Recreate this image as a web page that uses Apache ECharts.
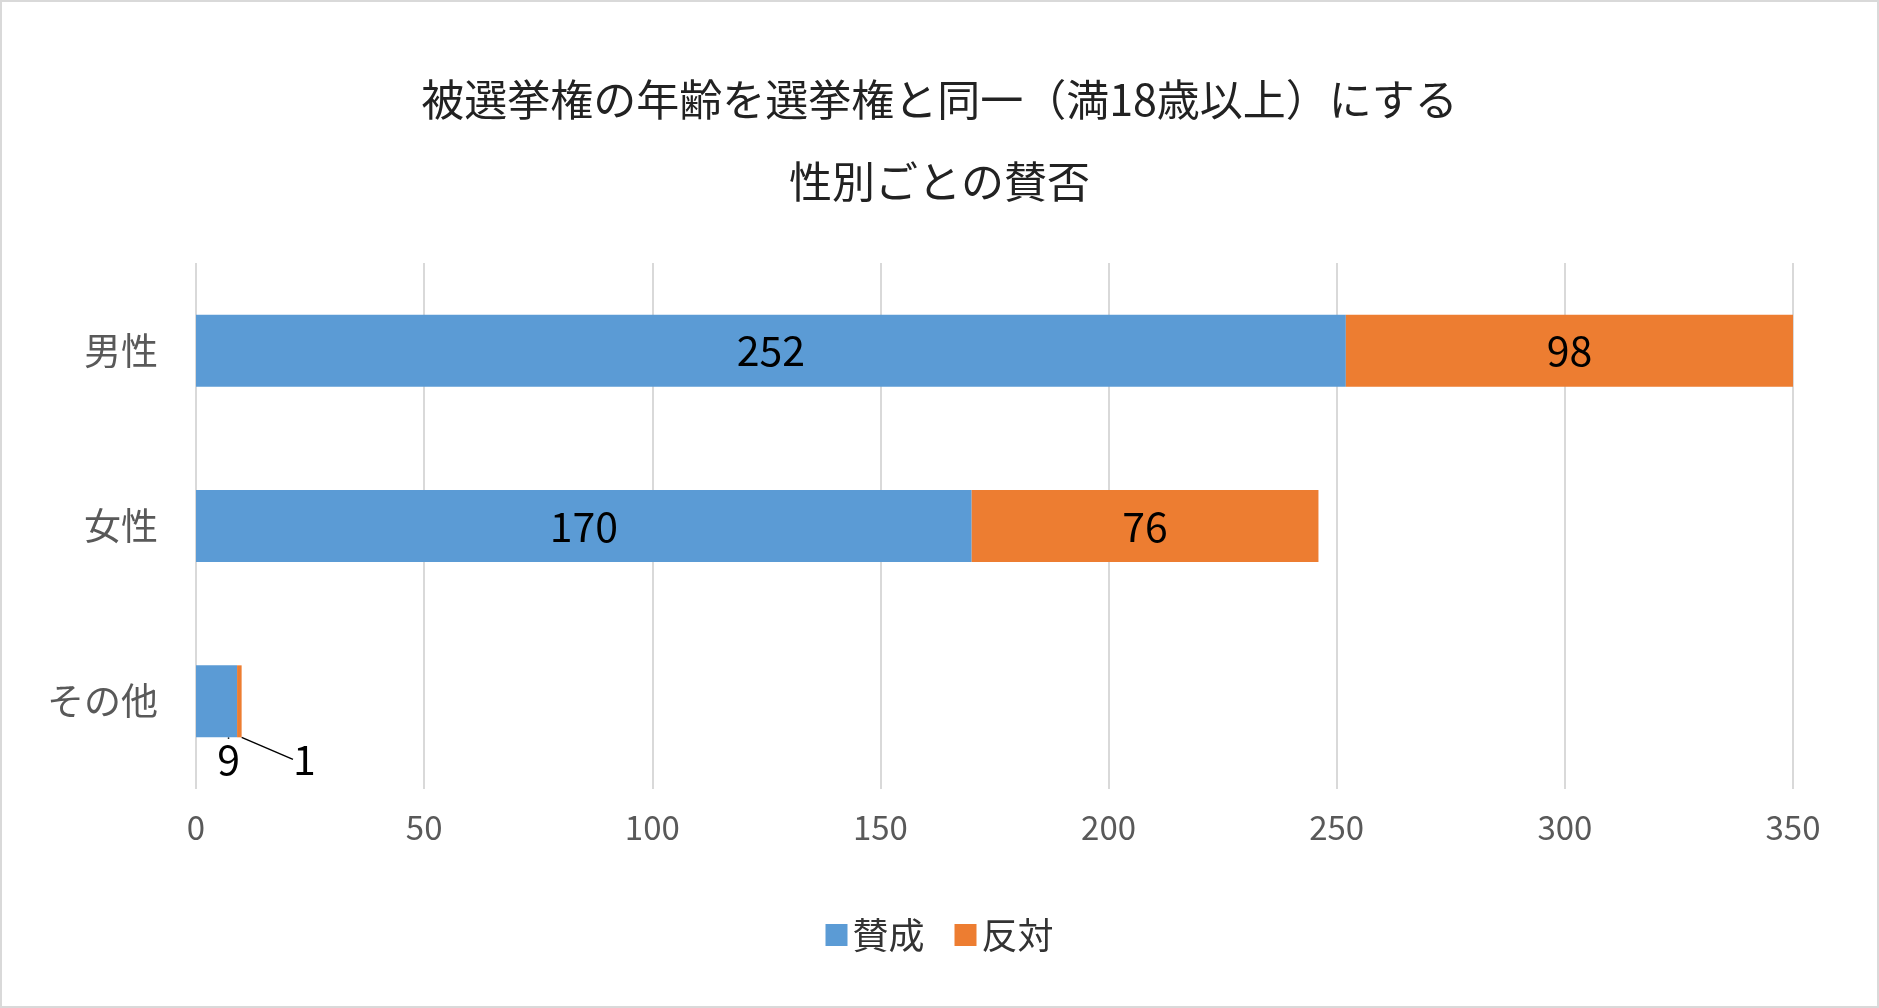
<!DOCTYPE html>
<html><head><meta charset="utf-8">
<script src="https://cdn.jsdelivr.net/npm/echarts@6/dist/echarts.min.js"></script>
<style>html,body{margin:0;padding:0;background:#fff}#c{width:1879px;height:1008px;box-sizing:border-box;border:2px solid #d9d9d9}</style>
</head><body><div id="c"></div>
<script>
var categories = ['男性', '女性', 'その他'];
var agree = [252, 170, 9];
var against = [98, 76, 1];
var xTicks = [0, 50, 100, 150, 200, 250, 300, 350];

var font = '"Noto Sans CJK JP", "Noto Sans", sans-serif';
var myChart = echarts.init(document.getElementById('c'));

function smallLabel(dx, dy) {
    return {
        label: { position: 'bottom', distance: 0 },
        labelLine: { show: true, lineStyle: { color: '#000', width: 1.5 } },
        labelLayoutOffset: [dx, dy]
    };
}

myChart.setOption({
    backgroundColor: '#fff',
    title: {
        text: '被選挙権の年齢を選挙権と同一（満18歳以上）にする\n性別ごとの賛否',
        left: 'center',
        top: 52,
        textStyle: { fontFamily: font, fontSize: 43, fontWeight: 'normal', color: '#222', lineHeight: 82 }
    },
    legend: {
        bottom: 48,
        left: 'center',
        itemWidth: 22,
        itemHeight: 22,
        itemGap: 30,
        icon: 'rect',
        textStyle: { fontFamily: font, fontSize: 36, color: '#333' },
        data: ['賛成', '反対']
    },
    grid: { left: 194, right: 84, top: 261, bottom: 217 },
    xAxis: {
        type: 'value',
        min: 0, max: 350, interval: 50,
        axisLine: { show: false },
        axisTick: { show: false },
        axisLabel: { fontFamily: font, fontSize: 33, color: '#595959', margin: 22 },
        splitLine: { lineStyle: { color: '#d9d9d9', width: 2 } }
    },
    yAxis: {
        type: 'category',
        inverse: true,
        data: categories,
        axisLine: { show: false },
        axisTick: { show: false },
        axisLabel: { fontFamily: font, fontSize: 37, color: '#595959', margin: 38 }
    },
    series: [
        {
            name: '賛成', type: 'bar', stack: 'a', barWidth: 72,
            itemStyle: { color: '#5b9bd5' },
            label: { show: true, position: 'inside', color: '#000', fontFamily: font, fontSize: 41 },
            labelLine: { show: true, lineStyle: { color: '#000', width: 1.5 } },
            labelLayout: function (p) {
                if (p.dataIndex === 2) return { dx: 12, dy: 58 };
                return {};
            },
            data: agree.map(function (v, i) {
                return i === 2 ? { value: v, labelLine: { show: true } } : { value: v, labelLine: { show: false } };
            })
        },
        {
            name: '反対', type: 'bar', stack: 'a', barWidth: 72,
            itemStyle: { color: '#ed7d31' },
            label: { show: true, position: 'inside', color: '#000', fontFamily: font, fontSize: 41 },
            labelLine: { show: true, lineStyle: { color: '#000', width: 1.5 } },
            labelLayout: function (p) {
                if (p.dataIndex === 2) return { dx: 65, dy: 58 };
                return {};
            },
            data: against.map(function (v, i) {
                return i === 2 ? { value: v, labelLine: { show: true } } : { value: v, labelLine: { show: false } };
            })
        }
    ]
});
</script></body></html>
